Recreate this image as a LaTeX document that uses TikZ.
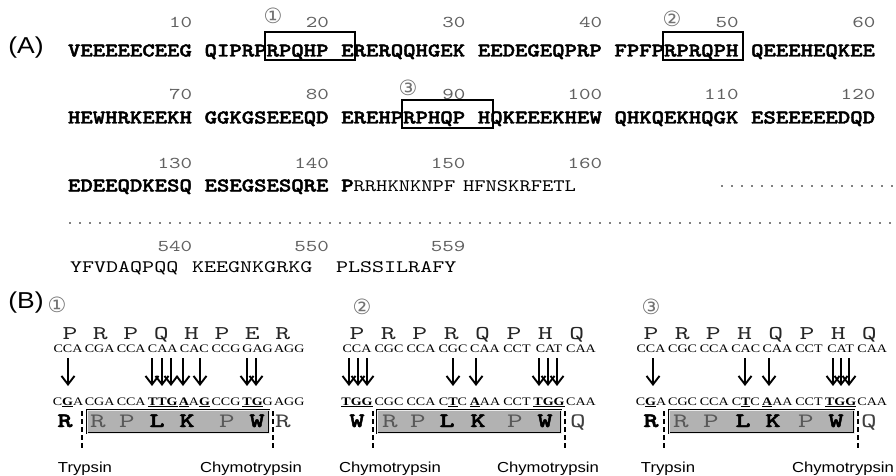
\documentclass[tikz,border=0pt]{standalone}
\usepackage{fontspec}
\usetikzlibrary{arrows.meta}
\newfontfamily\seqB{lmmonolt10-bold.otf}[FakeStretch=1.21,FakeBold=2.3]
\newfontfamily\seqR{lmmono10-regular.otf}[FakeStretch=1.23]
\newfontfamily\seqRw{lmmono10-regular.otf}[FakeStretch=1.31]
\newfontfamily\numF{lmmono10-regular.otf}[FakeStretch=1.33]
\newfontfamily\aaR{lmmono10-regular.otf}[FakeStretch=1.45]
\newfontfamily\aaB{lmmonolt10-bold.otf}[FakeStretch=1.4,FakeBold=2.3]
\newfontfamily\codF{Liberation Serif}[FakeStretch=1.22]
\newfontfamily\labF{Liberation Sans}[FakeStretch=1.15]
\newfontfamily\cirF{DejaVu Sans}
\newcommand\mk[1]{\underline{\textbf{#1}}}
\begin{document}
\begin{tikzpicture}[x=1pt,y=-1pt,
  every node/.style={inner sep=0pt,outer sep=0pt},
  seqb/.style={font=\seqB\fontsize{19.5}{19.5}\selectfont,anchor=base west},
  seqr/.style={font=\seqR\fontsize{17.5}{18}\selectfont,anchor=base west},
  seqrw/.style={font=\seqRw\fontsize{17.5}{18}\selectfont,anchor=base west},
  posnum/.style={font=\numF\fontsize{16.5}{17}\selectfont,anchor=base east,text=black!62},
  circno/.style={font=\cirF\fontsize{21}{21}\selectfont,text=black!55},
  plabel/.style={font=\labF\fontsize{23}{23}\selectfont},
  codon/.style={font=\codF\fontsize{11.5}{12}\selectfont,anchor=base},
  aatop/.style={font=\aaR\fontsize{19.5}{19.5}\selectfont,anchor=base,text=black!85},
  aabold/.style={font=\aaB\fontsize{20.5}{20.5}\selectfont,anchor=base},
  aagray/.style={font=\aaR\fontsize{20.5}{20.5}\selectfont,anchor=base,text=black!65},
  aaplain/.style={font=\aaR\fontsize{20.5}{20.5}\selectfont,anchor=base,text=black!75},
  enz/.style={font=\labF\fontsize{14.5}{14.5}\selectfont,anchor=base},
  mut/.style={line width=1.9pt,-{Straight Barb[length=8.5pt,width=13pt]}},
  cutline/.style={line width=1.8pt,dash pattern=on 5pt off 3pt},
  hlbox/.style={fill=black!30,draw=black,line width=1pt,double=black!8,double distance=0.9pt},
  seqbox/.style={draw=black,line width=1.1pt},
  dotrow/.style={line width=1.8pt,line cap=round,dash pattern=on 0pt off 10pt}]
\useasboundingbox (0,0) rectangle (896,476);
\fill[white] (0,0) rectangle (896,476);

% ---------- (A) ----------
\node[plabel] (labA) at (26,48) {(A)};

% row 1
\foreach \g [count=\k from 0] in {VEEEEECEEG,QIPRPRPQHP,ERERQQHGEK,EEDEGEQPRP,FPFPRPRQPH,QEEEHEQKEE}
  \node[seqb] (ra\k) at ({68+11*12.42*\k},56.5) {\g};
\foreach \n [count=\k from 0] in {10,20,30,40,50,60}
  \node[posnum] (na\k) at ({68+(11*\k+10)*12.42},28) {\n};
% row 2
\foreach \g [count=\k from 0] in {HEWHRKEEKH,GGKGSEEEQD,EREHPRPHQP,HQKEEEKHEW,QHKQEKHQGK,ESEEEEEDQD}
  \node[seqb] (rb\k) at ({68+11*12.42*\k},123.5) {\g};
\foreach \n [count=\k from 0] in {70,80,90,100,110,120}
  \node[posnum] (nb\k) at ({68+(11*\k+10)*12.42},100) {\n};
% row 3
\node[seqb] (rc0) at (68,191.5) {EDEEQDKESQ};
\node[seqb] (rc1) at ({68+11*12.42},191.5) {ESEGSESQRE};
\node[seqb] (rc2) at ({68+22*12.42},191.5) {P};
\node[seqr] (rc3) at (rc2.base east) {RRHKNKNPF};
\node[seqr] (rc4) at (463,191.5) {HFNSKRFETL};
\foreach \n [count=\k from 0] in {130,140,150,160}
  \node[posnum] (nc\k) at ({68+(11*\k+10)*12.42},168) {\n};
\draw[dotrow] (722,186) -- (895,186);
\draw[dotrow] (70,223) -- (895,223);
% row 4
\node[seqrw] (rd0) at (70,272) {YFVDAQPQQ};
\node[seqrw] (rd1) at (192,272) {KEEGNKGRKG};
\node[seqrw] (rd2) at (336,272) {PLSSILRAFY};
\node[posnum] (nd0) at ({68+10*12.42},251) {540};
\node[posnum] (nd1) at ({68+21*12.42},251) {550};
\node[posnum] (nd2) at ({68+32*12.42},251) {559};

% boxes and circled numbers
\draw[seqbox] (265,32) rectangle (355,60);
\draw[seqbox] (663,32) rectangle (743,60);
\draw[seqbox] (402,100) rectangle (493,128);
\node[circno] (ca) at (273,16) {①};
\node[circno] (cb) at (672,19) {②};
\node[circno] (cc) at (408,88) {③};

% ---------- (B) ----------
\node[plabel] (labB) at (26,303) {(B)};

% panel 1
\node[circno] (k1) at (57,305) {①};
\foreach \x/\a [count=\k] in {70/P,100.4/R,130.8/P,161.2/Q,191.6/H,222/P,252.4/E,282.8/R}
  \node[aatop] (p1t\k) at (\x,339) {\a};
\foreach \x/\c [count=\k] in {68/CCA,99.6/CGA,131.2/CCA,162.8/CAA,194.4/CAC,226/CCG,257.6/GAG,289.2/AGG}
  \node[codon] (p1u\k) at (\x,352) {\c};
\foreach \x [count=\k] in {68,152,162,171,183,200,247,256}
  {\coordinate (p1s\k) at (\x,358); \coordinate (p1e\k) at (\x,386); \draw[mut] (p1s\k) -- (p1e\k);}
\foreach \x/\c [count=\k] in {68/C\mk{G}A,99.6/CGA,131.2/CCA,162.8/\mk{TTG},194.4/\mk{A}A\mk{G},226/CCG,257.6/\mk{TG}G,289.2/AGG}
  \node[codon] (p1m\k) at (\x,405) {\c};
\draw[hlbox] (87,410) rectangle (269,433);
\node[aabold] (p1b1) at (65,427) {R};
\node[aagray] (p1b2) at (98,427) {R};
\node[aagray] (p1b3) at (127,427) {P};
\node[aabold] (p1b4) at (157,427) {L};
\node[aabold] (p1b5) at (187,427) {K};
\node[aagray] (p1b6) at (227,427) {P};
\node[aabold] (p1b7) at (257,427) {W};
\node[aaplain] (p1b8) at (283,427) {R};
\draw[cutline] (82,411) -- (82,449);
\draw[cutline] (273,411) -- (273,449);
\node[enz] (p1l) at (85,472) {Trypsin};
\node[enz] (p1r) at (251,472) {Chymotrypsin};

% panel 2
\node[circno] (k2) at (362,307) {②};
\foreach \x/\a [count=\k] in {357/P,388.4/R,419.8/P,451.2/R,482.6/Q,514/P,545.4/H,576.8/Q}
  \node[aatop] (p2t\k) at (\x,339) {\a};
\foreach \x/\c [count=\k] in {357/CCA,389/CGC,421/CCA,453/CGC,485/CAA,517/CCT,549/CAT,581/CAA}
  \node[codon] (p2u\k) at (\x,352) {\c};
\foreach \x [count=\k] in {349,358,367,453,476,539,548,557}
  {\coordinate (p2s\k) at (\x,358); \coordinate (p2e\k) at (\x,386); \draw[mut] (p2s\k) -- (p2e\k);}
\foreach \x/\c [count=\k] in {357/\mk{TGG},389/CGC,421/CCA,453/C\mk{T}C,485/\mk{A}AA,517/CCT,549/\mk{TGG},581/CAA}
  \node[codon] (p2m\k) at (\x,405) {\c};
\draw[hlbox] (377,410) rectangle (561,433);
\node[aabold] (p2b1) at (357,427) {W};
\node[aagray] (p2b2) at (390,427) {R};
\node[aagray] (p2b3) at (418,427) {P};
\node[aabold] (p2b4) at (447,427) {L};
\node[aabold] (p2b5) at (478,427) {K};
\node[aagray] (p2b6) at (515,427) {P};
\node[aabold] (p2b7) at (545,427) {W};
\node[aaplain] (p2b8) at (578,427) {Q};
\draw[cutline] (373,411) -- (373,449);
\draw[cutline] (565,411) -- (565,449);
\node[enz] (p2l) at (390,472) {Chymotrypsin};
\node[enz] (p2r) at (548,472) {Chymotrypsin};

% panel 3
\node[circno] (k3) at (651,307) {③};
\foreach \x/\a [count=\k] in {651/P,682.2/R,713.4/P,744.6/H,775.8/Q,807/P,838.2/H,869.4/Q}
  \node[aatop] (p3t\k) at (\x,339) {\a};
\foreach \x/\c [count=\k] in {651/CCA,682.6/CGC,714.2/CCA,745.8/CAC,777.4/CAA,809/CCT,840.6/CAT,872.2/CAA}
  \node[codon] (p3u\k) at (\x,352) {\c};
\foreach \x [count=\k] in {653,745,769,833,841,849}
  {\coordinate (p3s\k) at (\x,358); \coordinate (p3e\k) at (\x,386); \draw[mut] (p3s\k) -- (p3e\k);}
\foreach \x/\c [count=\k] in {651/C\mk{G}A,682.6/CGC,714.2/CCA,745.8/C\mk{T}C,777.4/\mk{A}AA,809/CCT,840.6/\mk{TGG},872.2/CAA}
  \node[codon] (p3m\k) at (\x,405) {\c};
\draw[hlbox] (669,410) rectangle (854,433);
\node[aabold] (p3b1) at (651,427) {R};
\node[aagray] (p3b2) at (681,427) {R};
\node[aagray] (p3b3) at (711,427) {P};
\node[aabold] (p3b4) at (743,427) {L};
\node[aabold] (p3b5) at (773,427) {K};
\node[aagray] (p3b6) at (806,427) {P};
\node[aabold] (p3b7) at (836,427) {W};
\node[aaplain] (p3b8) at (869,427) {Q};
\draw[cutline] (664,411) -- (664,449);
\draw[cutline] (858,411) -- (858,449);
\node[enz] (p3l) at (668,472) {Trypsin};
\node[enz] (p3r) at (843,472) {Chymotrypsin};
\end{tikzpicture}
\end{document}
